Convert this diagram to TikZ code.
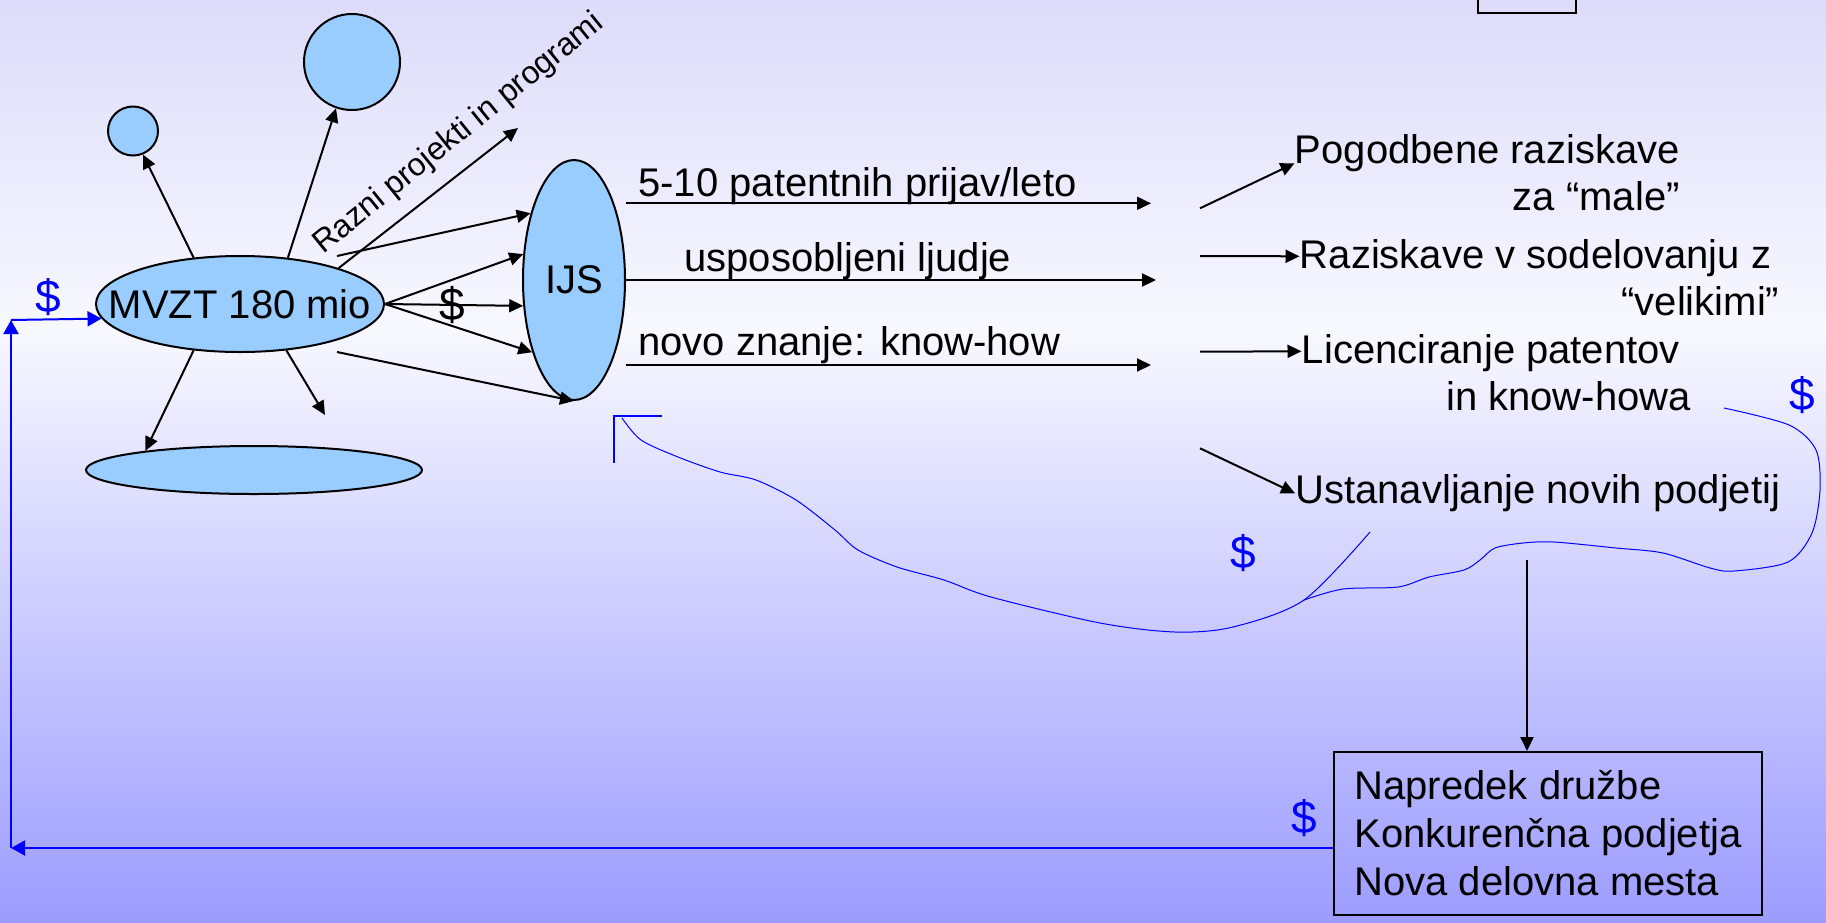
\documentclass[tikz,border=0pt]{standalone}
\usepackage{fontspec}
\setmainfont{Liberation Sans}
\usetikzlibrary{shapes.geometric,arrows.meta}
\definecolor{blobfill}{HTML}{99CCFF}
\definecolor{bgtop}{HTML}{DCDCFA}
\definecolor{bgmid}{HTML}{F8F8FF}
\definecolor{bgbot}{HTML}{9C9CFF}
\definecolor{money}{HTML}{0000FF}
\tikzstyle{blob} = [ ellipse, draw = black, line width = 1pt, %
                     fill = blobfill, inner sep = 0pt ]
\tikzstyle{arrow} = [line width=1pt,->,>={Triangle[length=7pt,width=6.5pt]}]
\tikzstyle{bluearrow} = [line width=1pt,draw=money,->,%
                         >={Triangle[length=7pt,width=7.5pt]}]
\tikzstyle{lbl} = [inner sep=0pt, font=\fontsize{20pt}{23.5pt}\selectfont]
\tikzstyle{dollar} = [inner sep=0pt, text=money, %
                      font=\fontsize{23pt}{26pt}\selectfont]
\newcommand{\knowhow}{know-how}
\begin{document}
\begin{tikzpicture}[x=0.5pt,y=-0.5pt]
      \useasboundingbox (0,0) rectangle (1826,922);
      % Background
      \shade[top color=bgtop, bottom color=bgmid] (0,0) rectangle (1826,330);
      \shade[top color=bgmid, bottom color=bgbot] (0,330) rectangle (1826,922);
      \draw[line width=1pt] (1478,-20) rectangle (1576,12.5);
      % Blobs
      \node (mvzt) [blob, minimum width=144pt, minimum height=48pt, %
        label={[lbl]center:MVZT 180 mio}] at (240,304) {};
      \node (small) [blob, minimum width=25pt, minimum height=24.5pt] %
        at (133,131) {};
      \node (big) [blob, minimum size=48pt] at (352,62) {};
      \node (flat) [blob, minimum width=168pt, minimum height=24pt] %
        at (254,470) {};
      \node (ijs) [blob, lbl, minimum width=51pt, minimum height=120pt] %
        at (574,280) {IJS};
      % Texts
      \node (razni) [lbl, font=\fontsize{16pt}{19pt}\selectfont, rotate=39] %
        at (459,134) {Razni projekti in programi};
      \node (patent) [lbl, anchor=base west] at (638,196.7) %
        {5-10 patentnih prijav/leto};
      \node (ljudje) [lbl, anchor=base west] at (684,271.7) %
        {usposobljeni ljudje};
      \node (znanje) [lbl, anchor=base west] at (638,355) %
        {novo znanje: \knowhow};
      \node (pogodbene) [lbl, align=right, anchor=north west] %
        at (1294.5,134.3) {Pogodbene raziskave\\za “male”};
      \node (sodel) [lbl, align=right, anchor=north west] %
        at (1299.5,239.3) {Raziskave v sodelovanju z\\“velikimi”\kern-0.2em};
      \node (licenc) [lbl, align=right, anchor=north west] %
        at (1301.5,334.3) {Licenciranje patentov\\in {\knowhow}a\kern-0.27em};
      \node (ustan) [lbl, anchor=base west] at (1295,503.3) %
        {Ustanavljanje novih podjetij};
      \node (napredek) [lbl, draw, line width=1pt, align=left, %
        minimum width=214pt, minimum height=81.5pt, %
        font=\fontsize{20pt}{24pt}\selectfont] at (1548,833.5) %
        {Napredek družbe\\Konkurenčna podjetja\\Nova delovna mesta};
      % Free ends
      \coordinate (razend) at (518,128);
      \coordinate (ijsfrom1) at (337,256);
      \coordinate (ijsfrom5) at (337,352);
      \coordinate (downend) at (325,415);
      \coordinate (patend) at (1151,203.3);
      \coordinate (ljudend) at (1156,280);
      \coordinate (znaend) at (1151,365);
      \coordinate (pogstart) at (1200,208.3);
      \coordinate (razstart) at (1200,256);
      \coordinate (licstart) at (1200,351.7);
      \coordinate (ustart) at (1200,448.3);
      \coordinate (cdown) at (1527,560);
      \coordinate (lowleft) at (11,848);
      \coordinate (upleft) at (11,320);
      % Arrows
      \draw [arrow] (mvzt.135) -- (small.-67.5);
      \draw [arrow] (mvzt.44) -- (big.251);
      \draw [arrow] (mvzt.20) -- (razend);
      \draw [arrow] (ijsfrom1) -- (ijs.123);
      \draw [arrow] (mvzt.east) -- (ijs.153);
      \draw [arrow] (mvzt.east) -- (ijs.207);
      \draw [arrow] (mvzt.east) -- (ijs.240);
      \draw [arrow] (ijsfrom5) -- (ijs.south);
      \draw [arrow] (mvzt.225.6) -- (flat.170);
      \draw [arrow] (mvzt.315.6) -- (downend);
      \draw [arrow] (ijs.east |- patend) -- (patend);
      \draw [arrow] (ijs.east |- ljudend) -- (ljudend);
      \draw [arrow] (ijs.east |- znaend) -- (znaend);
      \draw [arrow] (pogstart) -- ([yshift=-14.5pt]pogodbene.north west);
      \draw [arrow] (razstart) -- ([yshift=-8.5pt]sodel.north west);
      \draw [arrow] (licstart) -- ([yshift=-8.5pt]licenc.north west);
      \draw [arrow] (ustart) -- ([yshift=5pt]ustan.base west);
      \draw [arrow] (cdown) -- (cdown |- napredek.north);
      % Money flow
      \draw [bluearrow] (napredek.west |- lowleft) -- (lowleft);
      \draw [bluearrow] (lowleft) -- (upleft);
      \draw [bluearrow] (upleft) -- (mvzt.186.7);
      \draw [money, line width=1pt] (614,463) -- (614,416) -- (662,416);
      \draw [money, line width=0.5pt] plot[smooth, tension=0.5] coordinates %
        {(622,418) (641,440) (678,457) (720,472) (756,480) (796,500)
         (835,530) (858,550) (897,567) (944,580) (991,597) (1100,623)
         (1175,632) (1233,627) (1304,600) (1370,532)};
      \draw [money, line width=0.5pt] plot[smooth, tension=0.5] coordinates %
        {(1724,408) (1789,425) (1816,450) (1820,490) (1812,533) (1788,562)
         (1734,571) (1710,568) (1663,553) (1616,548) (1554,542) (1523,543)
         (1495,548) (1480,560) (1464,570) (1429,577) (1398,587) (1343,589)
         (1304,600)};
      % Dollars
      \node (dolmid) [lbl, font=\fontsize{23pt}{26pt}\selectfont] %
        at (452,305) {\$};
      \node (dolleft) [dollar] at (48,297) {\$};
      \node (dolright) [dollar] at (1802,395) {\$};
      \node (dolcurve) [dollar] at (1243,553) {\$};
      \node (dolbox) [dollar] at (1304,818) {\$};
    \end{tikzpicture}
\end{document}
